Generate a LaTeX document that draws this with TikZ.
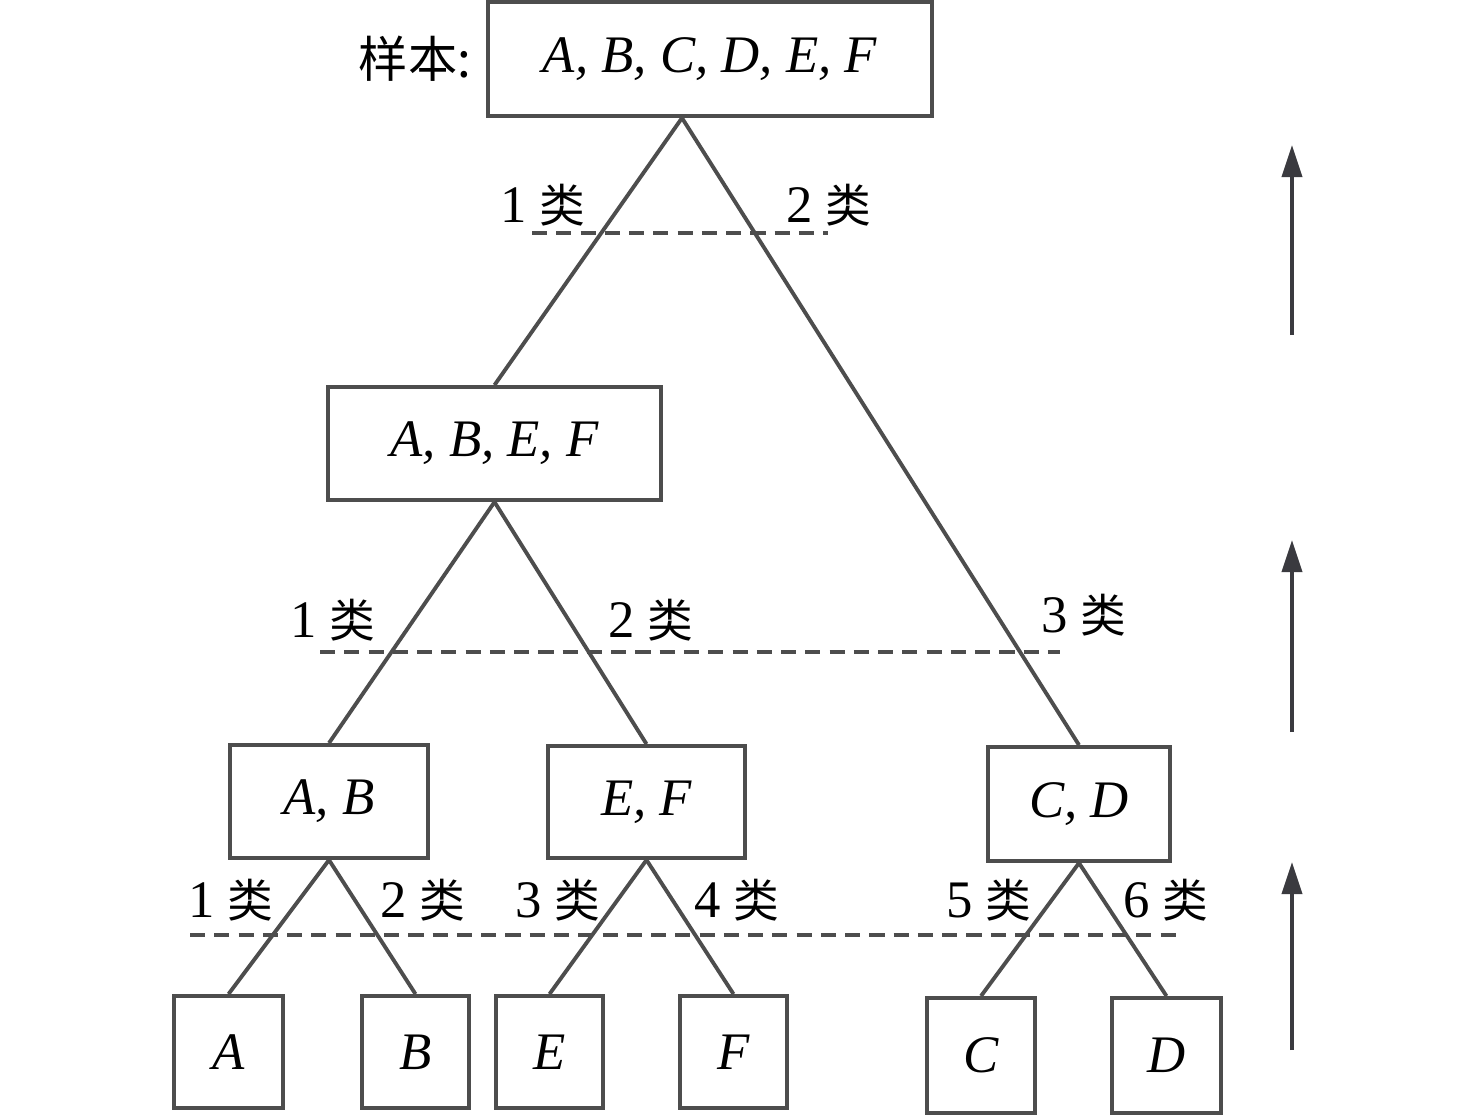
\documentclass[tikz,border=0pt]{standalone}
\usepackage{fontspec}
\setmainfont{Liberation Serif}
\newfontfamily\cjk{Noto Sans CJK SC}
\usepackage{tikz}
\usetikzlibrary{arrows.meta,positioning}
\definecolor{linegray}{RGB}{77,77,77}
\definecolor{arrowgray}{RGB}{58,58,63}
\newcommand{\lei}[1]{#1 {\cjk\fontsize{13}{16}\selectfont 类}}

\begin{document}
\begin{tikzpicture}[x=0.01cm, y=-0.01cm, line width=1.1pt,
  box/.style={draw=linegray, inner sep=0pt, font=\fontsize{15}{18}\selectfont\itshape},
  cls/.style={inner sep=0pt, font=\fontsize{15}{18}\selectfont},
  cut/.style={draw=linegray, dash pattern=on 4.3pt off 2.6pt},
  branch/.style={draw=linegray},
  up/.style={draw=arrowgray, -{Triangle[length=0.32cm,width=0.2cm]}}]
\useasboundingbox (0,0) rectangle (1476,1117);

\node[box, minimum width=4.44cm, minimum height=1.14cm] (top) at (710,59) {A, B, C, D, E, F};
\node[cls, left=0.13cm of top, font=\fontsize{14}{17}\selectfont\cjk] (sample) {样本:};
\node[box, minimum width=3.33cm, minimum height=1.13cm] (abef) at (494.5,443.5) {A, B, E, F};
\node[box, minimum width=1.98cm, minimum height=1.13cm] (ab) at (329,801.5) {A, B};
\node[box, minimum width=1.97cm, minimum height=1.12cm] (ef) at (646.5,802) {E, F};
\node[box, minimum width=1.82cm, minimum height=1.14cm] (cd) at (1079,804) {C, D};

\node[box, minimum width=1.09cm, minimum height=1.12cm] (la) at (228.5,1052) {A};
\node[box, minimum width=1.07cm, minimum height=1.12cm] (lb) at (415.5,1052) {B};
\node[box, minimum width=1.07cm, minimum height=1.12cm] (le) at (549.5,1052) {E};
\node[box, minimum width=1.07cm, minimum height=1.12cm] (lf) at (733.5,1052) {F};
\node[box, minimum width=1.08cm, minimum height=1.15cm] (lc) at (981,1055.5) {C};
\node[box, minimum width=1.09cm, minimum height=1.15cm] (ld) at (1166.5,1055.5) {D};

\node[cls] (t1) at (543,205) {\lei{1}};
\node[cls] (t2) at (829,205) {\lei{2}};
\node[cls] (m1) at (333,620) {\lei{1}};
\node[cls] (m2) at (651,620) {\lei{2}};
\node[cls] (m3) at (1084,615) {\lei{3}};
\node[cls] (b1) at (231,900) {\lei{1}};
\node[cls] (b2) at (423,900) {\lei{2}};
\node[cls] (b3) at (558,900) {\lei{3}};
\node[cls] (b4) at (737,900) {\lei{4}};
\node[cls] (b5) at (989,900) {\lei{5}};
\node[cls] (b6) at (1166,900) {\lei{6}};

\draw[branch] ([xshift=-0.28cm]top.south) -- (abef.north);
\draw[branch] ([xshift=-0.28cm]top.south) -- (cd.north);
\draw[branch] (abef.south) -- (ab.north);
\draw[branch] (abef.south) -- (ef.north);
\draw[branch] (ab.south) -- (la.north);
\draw[branch] (ab.south) -- (lb.north);
\draw[branch] (ef.south) -- (le.north);
\draw[branch] (ef.south) -- (lf.north);
\draw[branch] (cd.south) -- (lc.north);
\draw[branch] (cd.south) -- (ld.north);

\draw[cut] (532,233) -- (828,233);
\draw[cut] (320,652) -- (1060,652);
\draw[cut] (190,935) -- (1180,935);

\draw[up] (1292,335) -- (1292,145);
\draw[up] (1292,732) -- (1292,540);
\draw[up] (1292,1050) -- (1292,862);
\end{tikzpicture}
\end{document}
